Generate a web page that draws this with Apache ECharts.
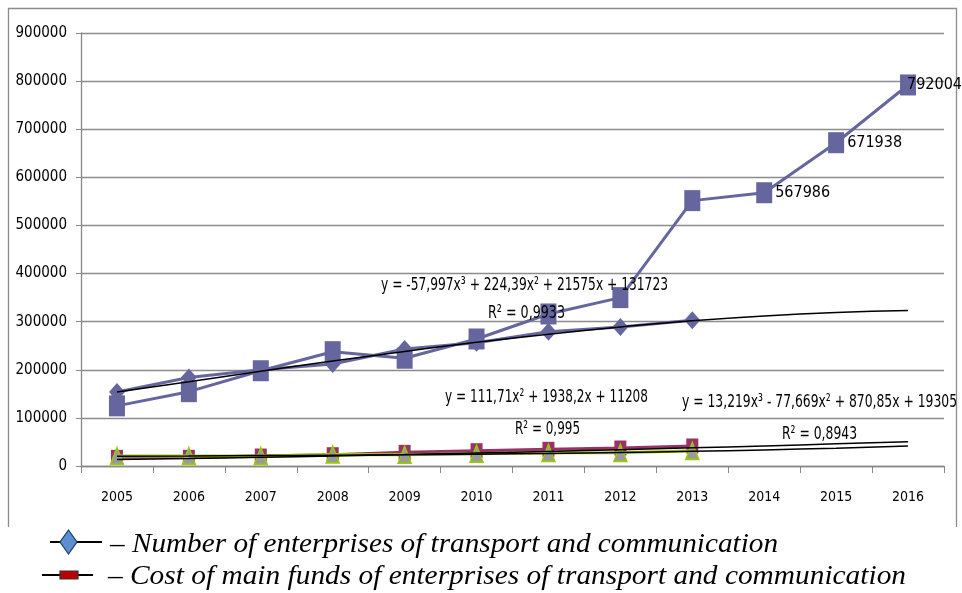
<!DOCTYPE html>
<html><head><meta charset="utf-8">
<script src="https://cdn.jsdelivr.net/npm/echarts@6/dist/echarts.min.js"></script>
<style>html,body{margin:0;padding:0;background:#fff}#c{width:962px;height:593px}</style>
</head><body><div id="c"></div>
<script>
var years = ['2005','2006','2007','2008','2009','2010','2011','2012','2013','2014','2015','2016'];
var yTicks = [0,100000,200000,300000,400000,500000,600000,700000,800000,900000];
// Number of enterprises (diamonds)
var enterprises = [154000,184000,200000,212000,243000,256000,279000,289000,303000,null,null,null];
// Upper square series
var upperSquares = [125000,154500,198000,237600,224000,264000,316000,350000,551600,567986,671938,792004];
// Cost of main funds (maroon squares)
var costFunds = [18000,18000,20700,23500,28400,31800,34700,37400,41600,null,null,null];
// Triangle series
var triSeries = [21000,21000,21000,24000,23500,25500,27500,27500,31500,null,null,null];
// Trendlines
var trendEnterprises = [154000,175000,197000,218000,238000,257000,274000,289000,302000,312000,319000,323000];
var trendCost = [13300,15500,18000,20700,23700,26900,30200,33900,37700,41800,46000,50600];
var trendTri = [20100,20800,21600,22400,23400,24600,26100,28100,30500,33500,37100,41400];
// Annotation texts
var eqTexts = ['y = -57,997x³ + 224,39x² + 21575x + 131723', 'R² = 0,9933',
               'y = 111,71x² + 1938,2x + 11208', 'R² = 0,995',
               'y = 13,219x³ - 77,669x² + 870,85x + 19305', 'R² = 0,8943'];
var legendTexts = ['– Number of enterprises of transport and communication',
                   '– Cost of main funds of enterprises of transport and communication'];

var PURPLE = '#66669f';
var NARROW = '"DejaVu Sans Condensed","Liberation Sans Narrow",sans-serif';
var SERIF = '"Liberation Serif","Times New Roman",serif';

var cvs = document.createElement('canvas').getContext('2d');
function measure(text, font){ cvs.font = font; return cvs.measureText(text).width; }
// text fitted horizontally to a target width
function fitText(text, x, y, w, size, family, italic){
  var font = (italic ? 'italic ' : '') + size + 'px ' + family;
  var sx = w / measure(text, font);
  return {type: 'text', x: x, y: y, scaleX: sx, z: 20,
          style: {text: text, fontSize: size, fontFamily: family, fontStyle: italic ? 'italic' : 'normal',
                  fill: '#000', align: 'left', verticalAlign: 'middle'}};
}

var chart = echarts.init(document.getElementById('c'));

var upperData = upperSquares.map(function(v, i){
  var d = {value: v};
  if (i >= 9) {
    d.label = {show: true, position: 'right', distance: 3, color: '#000', fontSize: 16, fontFamily: NARROW,
               formatter: function(p){ return String(p.value); }};
    if (i === 11) d.label.offset = [-12, 0];
  }
  return d;
});

function trend(name, data){
  return {name: name, type: 'line', data: data, symbol: 'none', smooth: true, z: 10,
          lineStyle: {color: '#000', width: 1.5}, silent: true};
}

var option = {
  animation: false,
  backgroundColor: '#fff',
  grid: {left: 81, right: 18, top: 33, bottom: 127},
  xAxis: {
    type: 'category', data: years, boundaryGap: true,
    axisLine: {lineStyle: {color: '#888', width: 1.3}},
    axisTick: {show: true, length: 7, alignWithLabel: false, lineStyle: {color: '#888'}},
    axisLabel: {color: '#000', fontSize: 14, fontFamily: NARROW, margin: 24}
  },
  yAxis: {
    type: 'value', min: yTicks[0], max: yTicks[yTicks.length-1], interval: yTicks[1]-yTicks[0],
    axisLine: {show: true, lineStyle: {color: '#888', width: 1.3}},
    axisTick: {show: true, length: 5, lineStyle: {color: '#888'}},
    splitLine: {lineStyle: {color: '#8c8c8c', width: 1.3}},
    axisLabel: {color: '#000', fontSize: 15, fontFamily: NARROW, margin: 14,
                formatter: function(v){ return String(v); }}
  },
  series: [
    {name: 'Number of enterprises of transport and communication', type: 'line', data: enterprises,
     symbol: 'diamond', symbolSize: [16, 18], z: 3,
     lineStyle: {color: PURPLE, width: 3}, itemStyle: {color: PURPLE}},
    {name: 'Upper', type: 'line', data: upperData,
     symbol: 'rect', symbolSize: [16, 21], z: 4,
     lineStyle: {color: PURPLE, width: 3}, itemStyle: {color: PURPLE}},
    {name: 'Cost of main funds of enterprises of transport and communication', type: 'line', data: costFunds,
     symbol: 'rect', symbolSize: [12, 15], z: 5,
     lineStyle: {color: '#993366', width: 3}, itemStyle: {color: '#993366'}},
    {name: 'Triangles', type: 'line', data: triSeries,
     symbol: 'triangle', symbolSize: [13, 17], z: 6,
     lineStyle: {color: '#a6cc1a', width: 3},
     itemStyle: {color: '#9a9a9a', borderColor: '#99cc00', borderWidth: 1.5}},
    trend('Trend enterprises', trendEnterprises),
    trend('Trend cost', trendCost),
    trend('Trend triangles', trendTri)
  ],
  graphic: [
    {type: 'polyline', shape: {points: [[8.5, 560], [8.5, 8.5], [956.5, 8.5], [956.5, 560]]},
     style: {stroke: '#8c8c8c', lineWidth: 1.3, fill: null}, z: -1},
    {type: 'rect', shape: {x: 0, y: 527, width: 962, height: 66}, style: {fill: '#fff'}, z: 0},
    fitText(eqTexts[0], 381, 285, 287, 18, NARROW),
    fitText(eqTexts[1], 488, 313, 77, 18, NARROW),
    fitText(eqTexts[2], 445, 397, 203, 18, NARROW),
    fitText(eqTexts[3], 515, 429, 65, 18, NARROW),
    fitText(eqTexts[4], 682, 402, 275, 18, NARROW),
    fitText(eqTexts[5], 782, 434, 75, 18, NARROW),
    // legend
    {type: 'line', shape: {x1: 50, y1: 542, x2: 102, y2: 542}, style: {stroke: '#000', lineWidth: 2}, z: 21},
    {type: 'polygon', shape: {points: [[68.5, 530], [77, 542], [68.5, 554], [60, 542]]}, style: {fill: '#5b8fd0', stroke: '#1f3b66', lineWidth: 1.2}, z: 22},
    fitText(legendTexts[0], 110, 545, 668, 28, SERIF, true),
    {type: 'line', shape: {x1: 42, y1: 575, x2: 93, y2: 575}, style: {stroke: '#000', lineWidth: 2}, z: 21},
    {type: 'rect', shape: {x: 60, y: 571, width: 18, height: 8}, style: {fill: '#c00000', stroke: '#333', lineWidth: 1.2}, z: 22},
    fitText(legendTexts[1], 108, 577, 798, 28, SERIF, true)
  ]
};
chart.setOption(option);
</script></body></html>
